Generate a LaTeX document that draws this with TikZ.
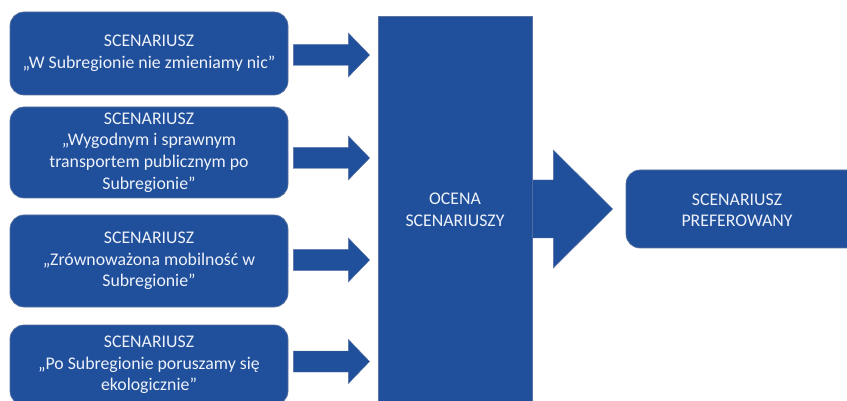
\documentclass[tikz,border=0pt]{standalone}
\usepackage{fontspec}
\setmainfont{Carlito}
\usetikzlibrary{calc}
\definecolor{boxblue}{RGB}{32,79,155}
\definecolor{edgeblue}{RGB}{90,115,160}
\definecolor{txt}{RGB}{238,242,250}
\tikzset{
  scen/.style={draw=edgeblue, line width=0.7pt, fill=boxblue, rounded corners=14pt,
    text=txt, align=center, font=\fontsize{17.8}{21.7}\selectfont, inner sep=0pt},
  lbl/.style={text=txt, align=center, font=\fontsize{17.8}{22}\selectfont},
  blockarr/.style={fill=boxblue, draw=edgeblue, line width=0.4pt},
}
\begin{document}
\begin{tikzpicture}[x=1pt,y=-1pt]
\useasboundingbox (0,0) rectangle (847,401);
\clip (0,0) rectangle (847,401);
% scenario boxes
\node[scen, minimum width=278pt, minimum height=83pt] (b1) at (149,53.5)
  {SCENARIUSZ\\„W Subregionie nie zmieniamy nic”};
\node[scen, minimum width=278pt, minimum height=91pt] (b2) at (149,152.5)
  {SCENARIUSZ\\„Wygodnym i sprawnym\\transportem publicznym po\\Subregionie”};
\node[scen, minimum width=278pt, minimum height=92pt] (b3) at (149,261)
  {SCENARIUSZ\\„Zrównoważona mobilność w\\Subregionie”};
\node[scen, minimum width=278pt, minimum height=80pt] (b4) at (149,365)
  {SCENARIUSZ\\„Po Subregionie poruszamy się\\ekologicznie”};
% central box
\node[scen, rounded corners=0pt, minimum width=154pt, minimum height=420pt] (oc) at (455,226)
  {};
\node[lbl] (octxt) at (455,210) {OCENA\\SCENARIUSZY};
% final box
\node[scen, minimum width=240pt, minimum height=78pt] (fin) at (746,209) {};
\node[lbl, font=\fontsize{17.8}{21}\selectfont] (fintxt) at (737,210)
  {SCENARIUSZ\\PREFEROWANY};
% block arrows from scenarios to evaluation
\foreach \b/\dy in {b1/1.5, b2/5.5, b3/-1, b4/-3.5}{
  \fill[blockarr] ($(\b.east)+(5,\dy)$) coordinate (s)
    -- ++(0,-10.5) -- ++(55,0) -- ++(0,-11.5) -- ($(oc.west |- s)+(-8,0)$)
    -- ($(s)+(55,22)$) -- ($(s)+(55,10.5)$) -- ($(s)+(0,10.5)$) -- cycle;
}
% big arrow from evaluation to preferred
\fill[blockarr] ($(oc.east |- fin.west)+(0,-29)$) -- ++(21,0) -- ++(0,-30)
  -- ($(fin.west)+(-13,0)$) coordinate (tip)
  -- ($(oc.east |- fin.west)+(21,59)$) -- ++(0,-30) -- ++(-21,0) -- cycle;
\end{tikzpicture}
\end{document}
